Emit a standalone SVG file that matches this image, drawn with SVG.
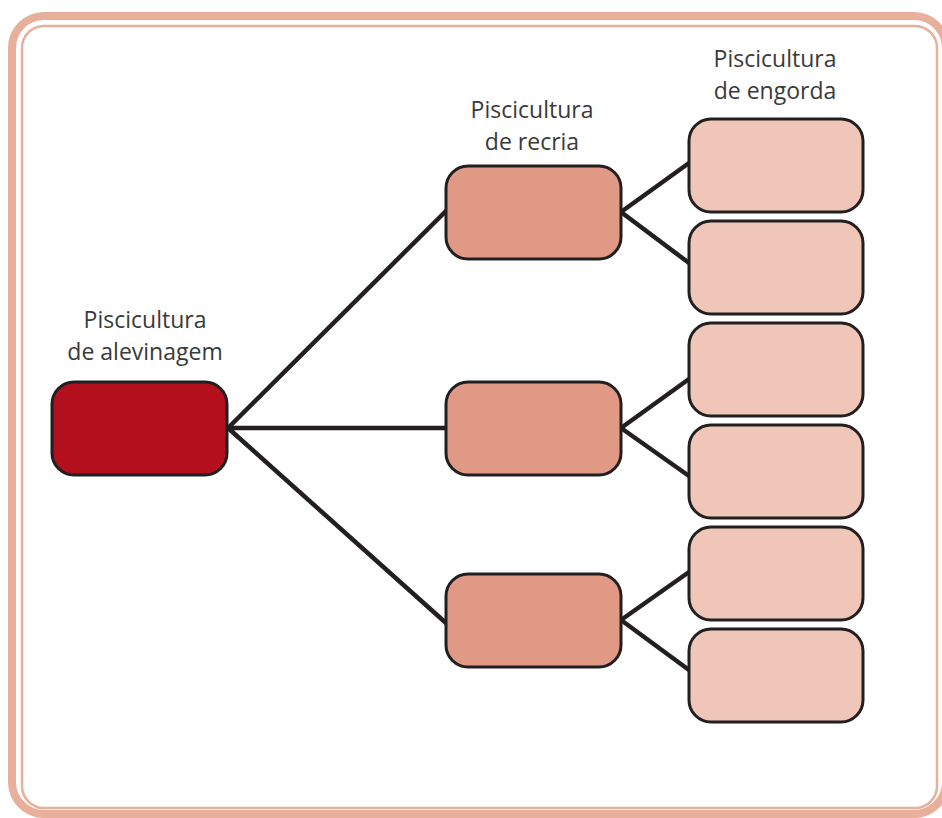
<svg xmlns="http://www.w3.org/2000/svg" width="942" height="818" viewBox="0 0 942 818">
<style>
.lbl{font-family:"Open Sans","Noto Sans","Liberation Sans",sans-serif;font-size:23px;font-weight:400;fill:#3a3a3a;text-anchor:middle}
.box{stroke:#231f20;stroke-width:3}
.a{fill:#b30f1d}
.r{fill:#df9985}
.e{fill:#efc6b8}
.con{stroke:#231f20;stroke-width:4.5;fill:none;stroke-linecap:round}
</style>
<rect width="942" height="818" fill="#ffffff"/>
<g id="frame">
<rect x="12" y="16" width="934" height="798" rx="32" fill="none" stroke="#e8af9b" stroke-width="8"/>
<rect x="22" y="26" width="915" height="782" rx="22" fill="#ffffff" stroke="#e8af9b" stroke-width="2.5"/>
</g>
<g id="connectors">
<path class="con" d="M228 428 L446 211 M228 428 L446 428 M228 428 L446 623"/>
<path class="con" d="M621 212 L689 163 M621 212 L689 263"/>
<path class="con" d="M621 428 L689 379 M621 428 L689 476"/>
<path class="con" d="M621 620 L689 572 M621 620 L689 670"/>
</g>
<g id="alevinagem">
<rect class="box a" x="52" y="382" width="175" height="93" rx="22"/>
<text class="lbl" x="145" y="328">Piscicultura</text>
<text class="lbl" x="145" y="360">de alevinagem</text>
</g>
<g id="recria1">
<rect class="box r" x="446" y="166" width="175" height="93" rx="22"/>
<text class="lbl" x="532" y="118">Piscicultura</text>
<text class="lbl" x="532" y="150">de recria</text>
</g>
<g id="recria2">
<rect class="box r" x="446" y="382" width="175" height="93" rx="22"/>
</g>
<g id="recria3">
<rect class="box r" x="446" y="574" width="175" height="93" rx="22"/>
</g>
<g id="engorda1">
<rect class="box e" x="689" y="119" width="174" height="93" rx="22"/>
<text class="lbl" x="775" y="67">Piscicultura</text>
<text class="lbl" x="775" y="99">de engorda</text>
</g>
<g id="engorda2"><rect class="box e" x="689" y="221" width="174" height="93" rx="22"/></g>
<g id="engorda3"><rect class="box e" x="689" y="323" width="174" height="93" rx="22"/></g>
<g id="engorda4"><rect class="box e" x="689" y="425" width="174" height="93" rx="22"/></g>
<g id="engorda5"><rect class="box e" x="689" y="527" width="174" height="93" rx="22"/></g>
<g id="engorda6"><rect class="box e" x="689" y="629" width="174" height="93" rx="22"/></g>
</svg>
